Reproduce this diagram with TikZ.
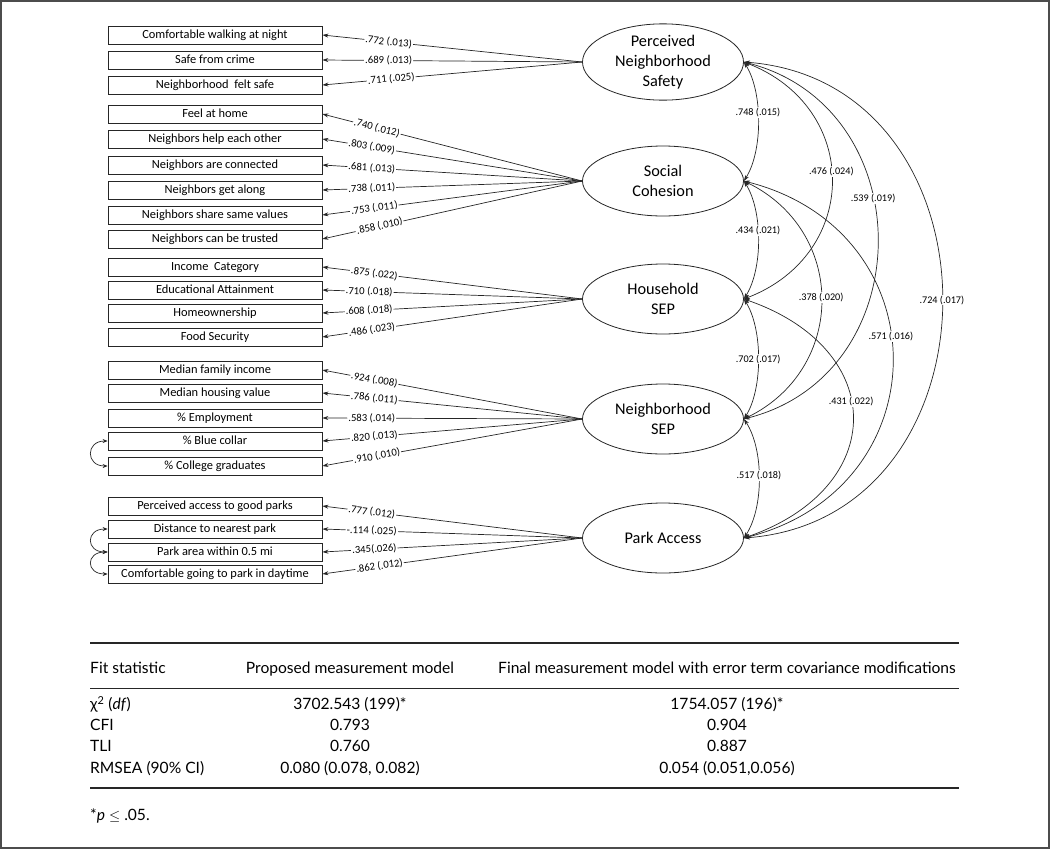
\documentclass[tikz,border=0pt]{standalone}
\usepackage{fontspec}
\setmainfont{Carlito}
\newfontfamily\tabfont{Lato}
\usetikzlibrary{arrows.meta,shapes.geometric}
\begin{document}
\begin{tikzpicture}[x=1pt,y=-1pt,
 ind/.style={draw=black!85, line width=0.8pt, minimum width=214pt, minimum height=18pt, inner sep=0pt, text height=8.6pt, text depth=2.6pt, font=\fontsize{12.4}{14}\selectfont},
 lat/.style={draw=black!85, line width=0.8pt, ellipse, minimum width=161pt, minimum height=70pt, inner sep=0pt, align=center, font=\fontsize{16.3}{20}\selectfont},
 load/.style={-{Stealth[length=6pt,width=4pt]}, line width=0.7pt, draw=black!85},
 ll/.style={fill=white, inner sep=1pt, font=\fontsize{10.7}{12}\selectfont, sloped},
 cov/.style={{Stealth[length=6pt,width=4pt]}-{Stealth[length=6pt,width=4pt]}, line width=0.7pt, draw=black!85},
 ecov/.style={{Stealth[length=5pt,width=4pt]}-{Stealth[length=5pt,width=4pt]}, line width=0.7pt, draw=black!85},
 cl/.style={fill=white, inner sep=1pt, font=\fontsize{10.2}{12}\selectfont},
 tt/.style={font=\tabfont\fontsize{15.6}{18}\selectfont, inner sep=0pt, text height=11pt, text depth=3.5pt},
 rule/.style={line width=1.2pt, draw=black!85}
 ]
\useasboundingbox (0,0) rectangle (1050,849);
\draw[line width=2pt, draw=black!70] (1,1) rectangle (1049,848);

% latent variables
\node[lat] (pns) at (663,62) {Perceived\\Neighborhood\\Safety};
\node[lat] (sc) at (663,181) {Social\\Cohesion};
\node[lat] (hs) at (663,299) {Household\\SEP};
\node[lat] (ns) at (663,419) {Neighborhood\\SEP};
\node[lat] (pa) at (663,538) {Park Access};

% indicators
\node[ind] (i1) at (215,35) {Comfortable walking at night};
\node[ind] (i2) at (215,60) {Safe from crime};
\node[ind] (i3) at (215,85) {Neighborhood\ \ felt safe};
\node[ind] (i4) at (215,114) {Feel at home};
\node[ind] (i5) at (215,139) {Neighbors help each other};
\node[ind] (i6) at (215,165) {Neighbors are connected};
\node[ind] (i7) at (215,190) {Neighbors get along};
\node[ind] (i8) at (215,215) {Neighbors share same values};
\node[ind] (i9) at (215,239) {Neighbors can be trusted};
\node[ind] (i10) at (215,267) {Income\ \ Category};
\node[ind] (i11) at (215,290) {Educational Attainment};
\node[ind] (i12) at (215,313) {Homeownership};
\node[ind] (i13) at (215,337) {Food Security};
\node[ind] (i14) at (215,370) {Median family income};
\node[ind] (i15) at (215,393) {Median housing value};
\node[ind] (i16) at (215,418) {\% Employment};
\node[ind] (i17) at (215,441) {\% Blue collar};
\node[ind] (i18) at (215,466) {\% College graduates};
\node[ind] (i19) at (215,506) {Perceived access to good parks};
\node[ind] (i20) at (215,529) {Distance to nearest park};
\node[ind] (i21) at (215,552) {Park area within 0.5 mi};
\node[ind] (i22) at (215,574) {Comfortable going to park in daytime};

% loadings
\draw[load] (pns.west) -- node[ll,pos=0.745]{.772 (.013)} (i1.east);
\draw[load] (pns.west) -- node[ll,pos=0.745]{.689 (.013)} (i2.east);
\draw[load] (pns.west) -- node[ll,pos=0.735]{.711 (.025)} (i3.east);
\draw[load] (sc.west) -- node[ll,pos=0.79]{.740 (.012)} (i4.east);
\draw[load] (sc.west) -- node[ll,pos=0.81]{.803 (.009)} (i5.east);
\draw[load] (sc.west) -- node[ll,pos=0.81]{.681 (.013)} (i6.east);
\draw[load] (sc.west) -- node[ll,pos=0.81]{.738 (.011)} (i7.east);
\draw[load] (sc.west) -- node[ll,pos=0.80]{.753 (.011)} (i8.east);
\draw[load] (sc.west) -- node[ll,pos=0.78]{.858 (.010)} (i9.east);
\draw[load] (hs.west) -- node[ll,pos=0.80]{.875 (.022)} (i10.east);
\draw[load] (hs.west) -- node[ll,pos=0.82]{.710 (.018)} (i11.east);
\draw[load] (hs.west) -- node[ll,pos=0.82]{.608 (.018)} (i12.east);
\draw[load] (hs.west) -- node[ll,pos=0.81]{.486 (.023)} (i13.east);
\draw[load] (ns.west) -- node[ll,pos=0.80]{.924 (.008)} (i14.east);
\draw[load] (ns.west) -- node[ll,pos=0.80]{.786 (.011)} (i15.east);
\draw[load] (ns.west) -- node[ll,pos=0.81]{.583 (.014)} (i16.east);
\draw[load] (ns.west) -- node[ll,pos=0.80]{.820 (.013)} (i17.east);
\draw[load] (ns.west) -- node[ll,pos=0.79]{.910 (.010)} (i18.east);
\draw[load] (pa.west) -- node[ll,pos=0.81]{.777 (.012)} (i19.east);
\draw[load] (pa.west) -- node[ll,pos=0.81]{-.114 (.025)} (i20.east);
\draw[load] (pa.west) -- node[ll,pos=0.80]{.345(.026)} (i21.east);
\draw[load] (pa.west) -- node[ll,pos=0.78]{.862 (.012)} (i22.east);

% error covariances
\draw[ecov] (i17.west) .. controls +(-22,0) and +(-22,0) .. (i18.west);
\draw[ecov] (i20.west) .. controls +(-22,0) and +(-22,0) .. (i21.west);
\draw[ecov] (i21.west) .. controls +(-22,0) and +(-22,0) .. (i22.west);

% factor covariances
\draw[cov] (pns.east) .. controls +(19,30) and +(19,-30) .. node[cl,pos=0.43]{.748 (.015)} (sc.east);
\draw[cov] (sc.east) .. controls +(19,30) and +(19,-30) .. node[cl,pos=0.43]{.434 (.021)} (hs.east);
\draw[cov] (hs.east) .. controls +(19,30) and +(19,-30) .. node[cl,pos=0.5]{.702 (.017)} (ns.east);
\draw[cov] (ns.east) .. controls +(20,30) and +(20,-30) .. node[cl,pos=0.48]{.517 (.018)} (pa.east);
\draw[cov] (pns.east) .. controls +(117,45) and +(117,-45) .. node[cl,pos=0.47]{.476 (.024)} (hs.east);
\draw[cov] (sc.east) .. controls +(103,50) and +(103,-50) .. node[cl,pos=0.49]{.378 (.020)} (ns.east);
\draw[cov] (pns.east) .. controls +(178,45) and +(178,-45) .. node[cl,pos=0.41]{.539 (.019)} (ns.east);
\draw[cov] (sc.east) .. controls +(198,50) and +(198,-50) .. node[cl,pos=0.45]{.571 (.016)} (pa.east);
\draw[cov] (hs.east) .. controls +(145,50) and +(145,-50) .. node[cl,pos=0.44]{.431 (.022)} (pa.east);
\draw[cov] (pns.east) .. controls +(264,20) and +(264,-20) .. node[cl,pos=0.5]{.724 (.017)} (pa.east);

% fit table
\draw[rule] (90,643) -- (959,643);
\draw[rule, line width=1pt] (90,688) -- (959,688);
\draw[rule] (90,788) -- (959,788);
\node[tt, anchor=west] (h1) at (90,670) {Fit statistic};
\node[tt] (h2) at (350,670) {Proposed measurement model};
\node[tt] (h3) at (727,670) {Final measurement model with error term covariance modifications};
\node[tt, anchor=west] (r1) at (90,706) {χ\textsuperscript{2} (\textit{df})};
\node[tt] (r1a) at (350,706) {3702.543 (199)*};
\node[tt] (r1b) at (727,706) {1754.057 (196)*};
\node[tt, anchor=west] (r2) at (90,727) {CFI};
\node[tt] (r2a) at (350,727) {0.793};
\node[tt] (r2b) at (727,727) {0.904};
\node[tt, anchor=west] (r3) at (90,748) {TLI};
\node[tt] (r3a) at (350,748) {0.760};
\node[tt] (r3b) at (727,748) {0.887};
\node[tt, anchor=west] (r4) at (90,770) {RMSEA (90\% CI)};
\node[tt] (r4a) at (350,770) {0.080 (0.078, 0.082)};
\node[tt] (r4b) at (727,770) {0.054 (0.051,0.056)};
\node[tt, anchor=west] (fn) at (90,817) {*\textit{p} $\le$ .05.};
\end{tikzpicture}
\end{document}
